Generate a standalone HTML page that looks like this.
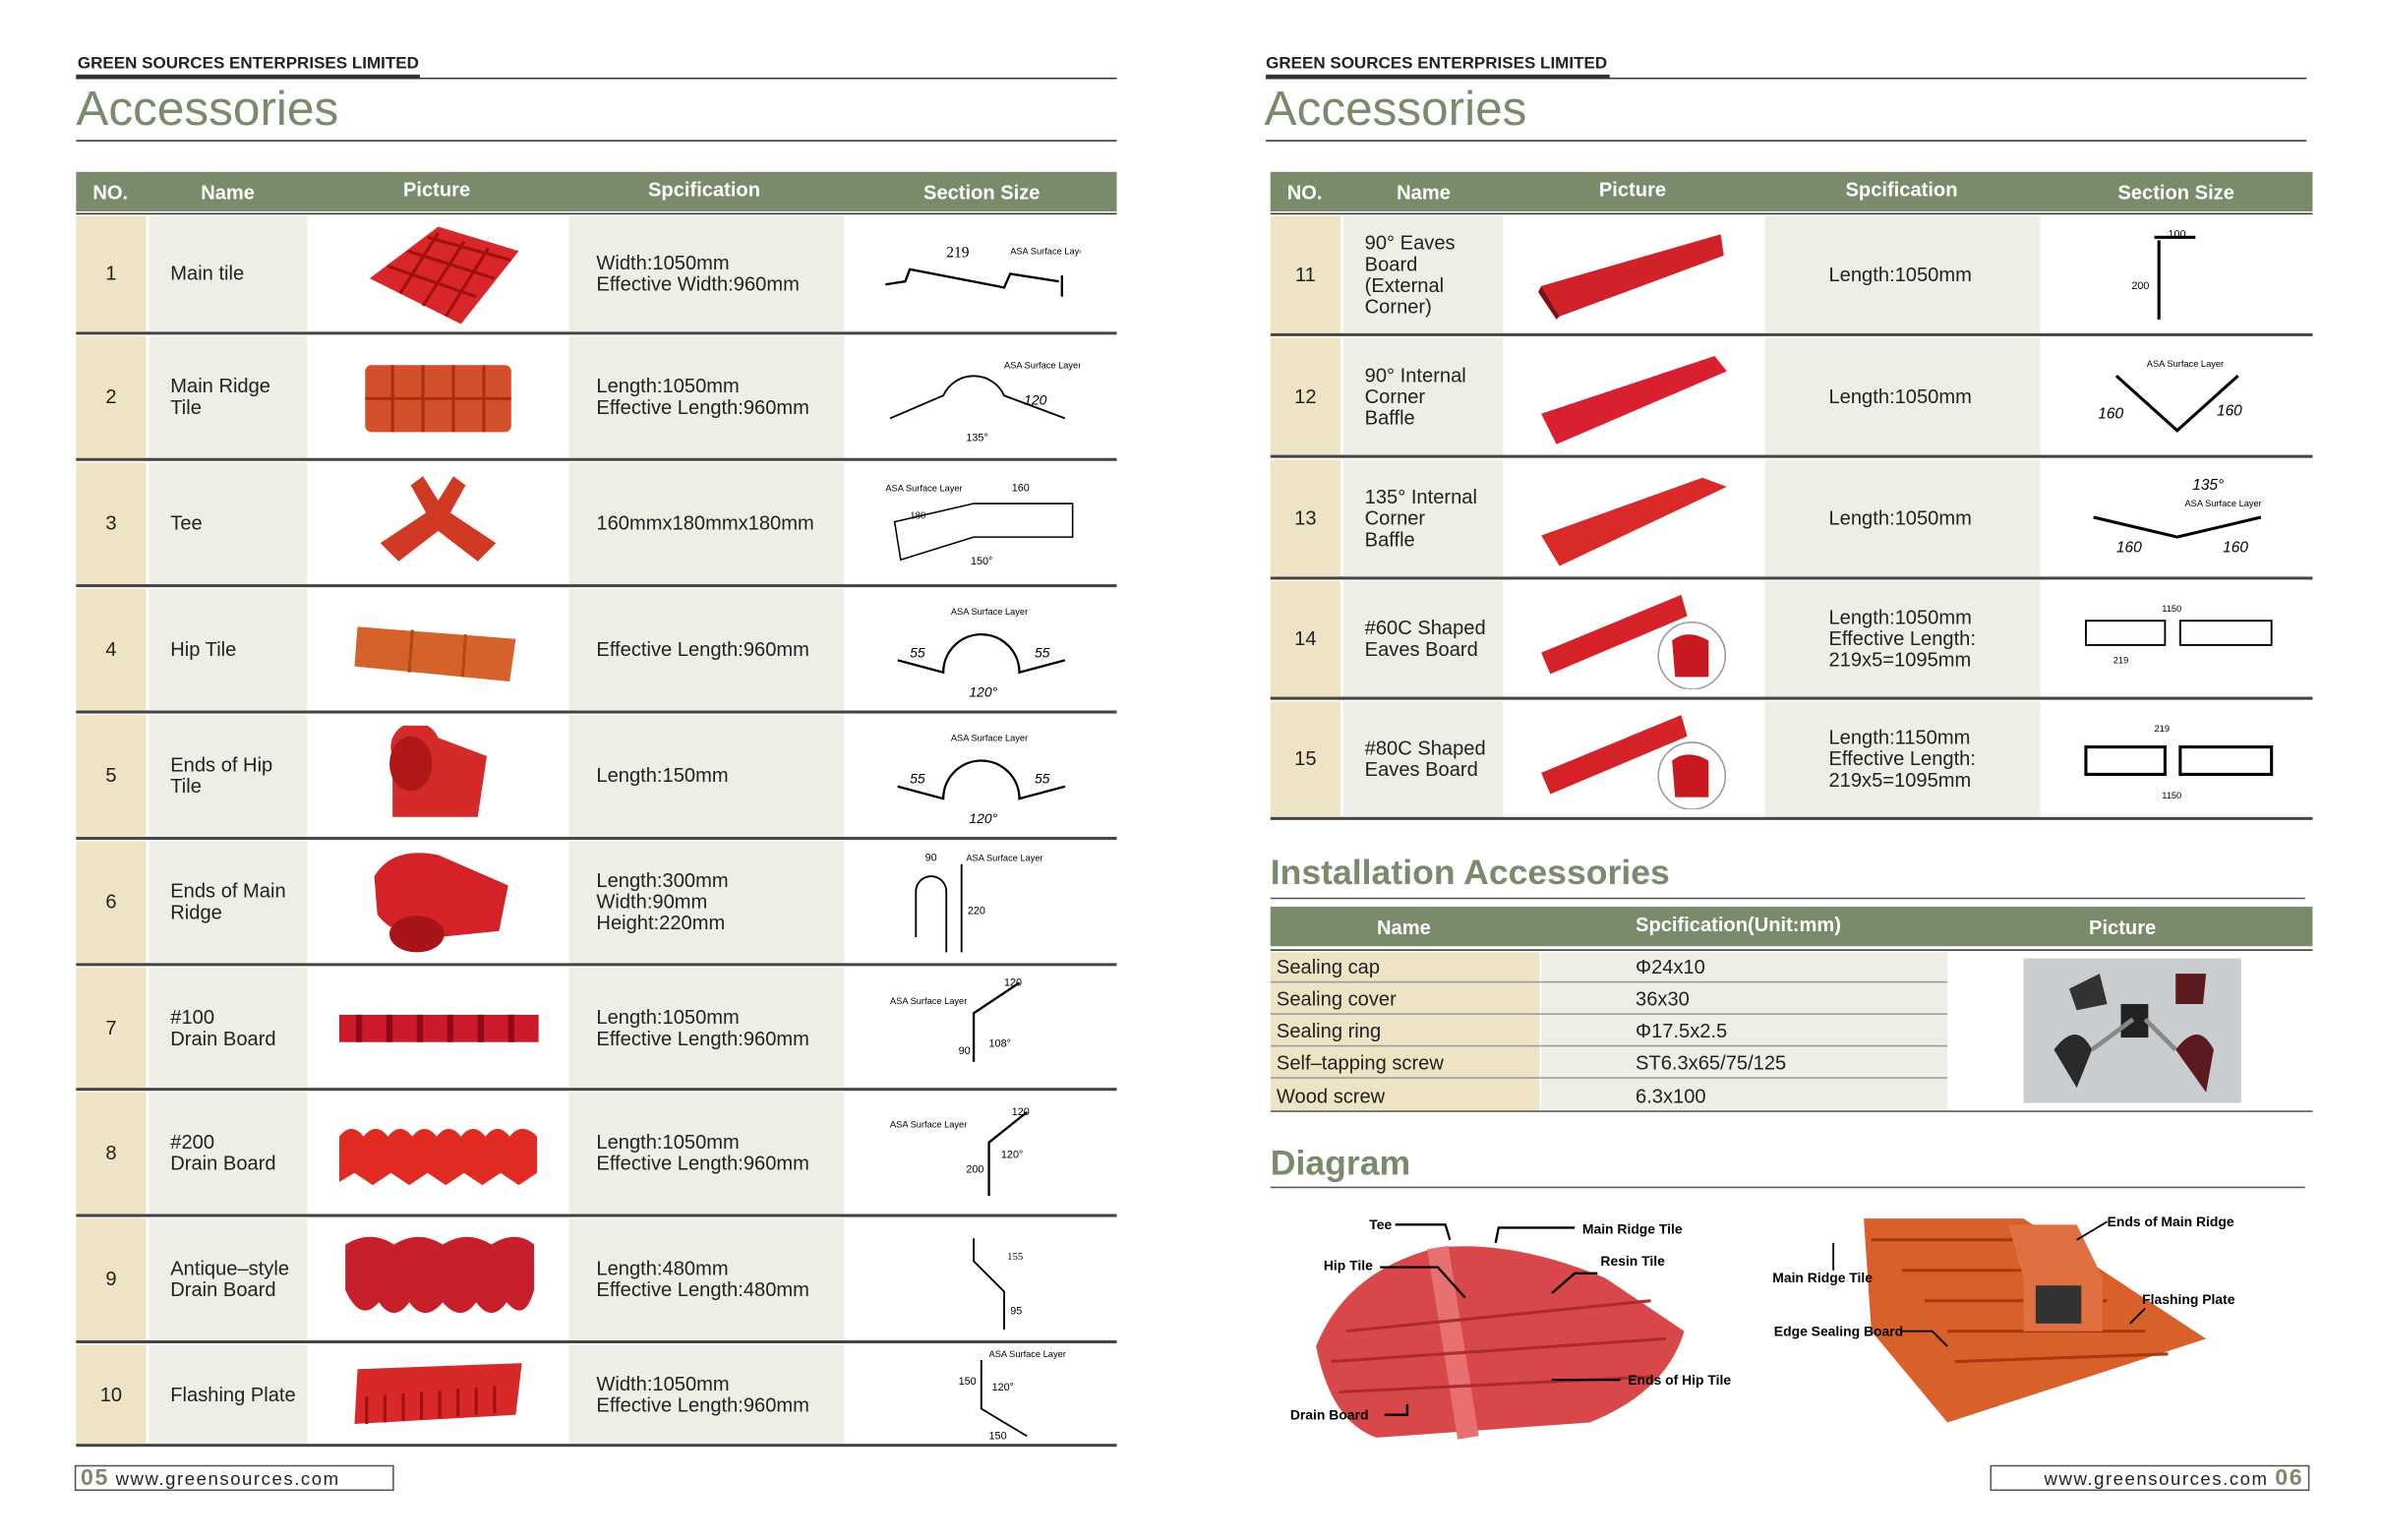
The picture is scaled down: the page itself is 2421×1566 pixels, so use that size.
<!DOCTYPE html>
<html><head><meta charset="utf-8"><style>
*{margin:0;padding:0;box-sizing:border-box}
html,body{width:2421px;height:1565px;overflow:hidden;background:#fff}
#w{position:absolute;left:0;top:0;width:1565px;height:1012px;transform:scale(1.547);transform-origin:0 0;font-family:"Liberation Sans",sans-serif;color:#222}
.a{position:absolute}
.co{font-size:11px;font-weight:bold;font-family:"Liberation Sans Narrow","Liberation Sans",sans-serif;letter-spacing:0}
.tt{font-size:32px;color:#7a8a6c;font-family:"Liberation Sans Narrow","Liberation Sans",sans-serif}
.hd{background:#7a8b6c;color:#fff;font-weight:bold;font-size:13px}
.hd span{position:absolute;top:6px}
.row{position:absolute;border-bottom:2px solid #444}
.c{position:absolute;top:0;bottom:0;display:flex;align-items:center;font-size:13px;line-height:14px}
.n{background:#efe3c6;justify-content:center}
.nm{background:#eeeee6;padding-left:14px}
.sp{background:#eeeee6;padding-left:18px}
.pic,.sec{background:#fff;justify-content:center}
.st{font-size:23px;color:#7a8a6c;font-weight:bold}
.it{position:absolute;font-size:13px;display:flex;align-items:center;height:20px;border-bottom:1px solid #999}
.lb{font-size:9px;font-weight:bold;position:absolute}
</style></head><body><div id="w">

<!-- LEFT PAGE -->
<div class="a co" style="left:51px;top:36px">GREEN SOURCES ENTERPRISES LIMITED</div>
<div class="a" style="left:50px;top:49px;width:226px;height:3px;background:#333"></div>
<div class="a" style="left:50px;top:51px;width:684px;height:1px;background:#333"></div>
<div class="a tt" style="left:50px;top:53px">Accessories</div>
<div class="a" style="left:50px;top:92px;width:684px;height:1px;background:#333"></div>
<div class="a hd" style="left:50px;top:113px;width:684px;height:26px">
<span style="left:11px">NO.</span><span style="left:82px">Name</span><span style="left:215px;top:4px">Picture</span><span style="left:376px;top:4px">Spcification</span><span style="left:557px">Section Size</span></div>
<div class="a" style="left:50px;top:140px;width:684px;height:1px;background:#333"></div>

<!-- right page header -->
<div class="a co" style="left:832px;top:36px">GREEN SOURCES ENTERPRISES LIMITED</div>
<div class="a" style="left:832px;top:49px;width:226px;height:3px;background:#333"></div>
<div class="a" style="left:832px;top:51px;width:684px;height:1px;background:#333"></div>
<div class="a tt" style="left:831px;top:53px">Accessories</div>
<div class="a" style="left:832px;top:92px;width:684px;height:1px;background:#333"></div>
<div class="a hd" style="left:835px;top:113px;width:685px;height:26px">
<span style="left:11px">NO.</span><span style="left:83px">Name</span><span style="left:216px;top:4px">Picture</span><span style="left:378px;top:4px">Spcification</span><span style="left:557px">Section Size</span></div>
<div class="a" style="left:835px;top:140px;width:685px;height:1px;background:#333"></div>

<!-- LEFT ROWS -->
<div class="row" style="left:50px;top:142px;width:684px;height:78px">
<div class="c n" style="left:0;width:46px">1</div><div class="c nm" style="left:48px;width:104px">Main tile</div>
<div class="c pic" style="left:152px;width:172px"><svg width="110" height="70"><polygon points="10,38 55,4 108,20 70,68" fill="#d8262a"/><path d="M22,30 L80,50 M35,20 L92,38 M48,11 L103,26 M30,48 L55,8 M45,56 L72,14 M60,63 L88,18" stroke="#a01010" stroke-width="2" fill="none"/></svg></div>
<div class="c sp" style="left:324px;width:181px">Width:1050mm<br>Effective Width:960mm</div>
<div class="c sec" style="left:505px;width:179px"><svg width="130" height="50"><text x="42" y="14" font-size="10" font-family="Liberation Serif">219</text><text x="84" y="12" font-size="6">ASA Surface Layer</text><path d="M2,32 L15,30 L18,22 L80,34 L84,25 L116,30 M118,26 V40" stroke="#000" stroke-width="1.5" fill="none"/></svg></div></div>

<div class="row" style="left:50px;top:221px;width:684px;height:82px">
<div class="c n" style="left:0;width:46px">2</div><div class="c nm" style="left:48px;width:104px">Main Ridge<br>Tile</div>
<div class="c pic" style="left:152px;width:172px"><svg width="100" height="50"><rect x="2" y="4" width="96" height="44" rx="4" fill="#d4502a"/><path d="M20,4V48 M40,4V48 M60,4V48 M80,4V48 M2,26H98" stroke="#a83010" stroke-width="2"/></svg></div>
<div class="c sp" style="left:324px;width:181px">Length:1050mm<br>Effective Length:960mm</div>
<div class="c sec" style="left:505px;width:179px"><svg width="130" height="62"><text x="80" y="12" font-size="6">ASA Surface Layer</text><path d="M5,45 L40,30 A22,22 0 0 1 80,30 L120,45" stroke="#000" stroke-width="1.2" fill="none"/><text x="93" y="36" font-size="9" font-style="italic">120</text><text x="55" y="60" font-size="7">135°</text></svg></div></div>

<div class="row" style="left:50px;top:304px;width:684px;height:82px">
<div class="c n" style="left:0;width:46px">3</div><div class="c nm" style="left:48px;width:104px">Tee</div>
<div class="c pic" style="left:152px;width:172px"><svg width="80" height="70"><polygon points="30,4 40,20 50,4 58,10 48,28 78,48 66,60 40,40 14,60 2,48 32,28 22,10" fill="#d03a22"/></svg></div>
<div class="c sp" style="left:324px;width:181px">160mmx180mmx180mm</div>
<div class="c sec" style="left:505px;width:179px"><svg width="130" height="62"><text x="2" y="10" font-size="6">ASA Surface Layer</text><text x="85" y="10" font-size="7">160</text><path d="M8,30 L60,18 H125 V40 H60 L12,55 Z" stroke="#000" stroke-width="1" fill="none"/><text x="18" y="28" font-size="7" font-family="Liberation Serif">180</text><text x="58" y="58" font-size="7">150°</text></svg></div></div>

<div class="row" style="left:50px;top:387px;width:684px;height:82px">
<div class="c n" style="left:0;width:46px">4</div><div class="c nm" style="left:48px;width:104px">Hip Tile</div>
<div class="c pic" style="left:152px;width:172px"><svg width="115" height="50"><polygon points="4,10 108,18 104,46 2,36" fill="#d4622a"/><path d="M40,12 L38,40 M75,15 L73,43" stroke="#b04818" stroke-width="2"/></svg></div>
<div class="c sp" style="left:324px;width:181px">Effective Length:960mm</div>
<div class="c sec" style="left:505px;width:179px"><svg width="130" height="70"><text x="45" y="12" font-size="6">ASA Surface Layer</text><path d="M10,42 L40,50 A25,25 0 0 1 90,50 L120,42" stroke="#000" stroke-width="1.5" fill="none"/><text x="18" y="40" font-size="9" font-style="italic">55</text><text x="100" y="40" font-size="9" font-style="italic">55</text><text x="57" y="66" font-size="9" font-style="italic">120°</text></svg></div></div>

<div class="row" style="left:50px;top:470px;width:684px;height:82px">
<div class="c n" style="left:0;width:46px">5</div><div class="c nm" style="left:48px;width:104px">Ends of Hip<br>Tile</div>
<div class="c pic" style="left:152px;width:172px"><svg width="80" height="66"><path d="M10,60 L10,20 A16,16 0 0 1 40,8 L72,20 L66,60 Z" fill="#d42a2a"/><ellipse cx="22" cy="25" rx="14" ry="18" fill="#b01818"/></svg></div>
<div class="c sp" style="left:324px;width:181px">Length:150mm</div>
<div class="c sec" style="left:505px;width:179px"><svg width="130" height="70"><text x="45" y="12" font-size="6">ASA Surface Layer</text><path d="M10,42 L40,50 A25,25 0 0 1 90,50 L120,42" stroke="#000" stroke-width="1.5" fill="none"/><text x="18" y="40" font-size="9" font-style="italic">55</text><text x="100" y="40" font-size="9" font-style="italic">55</text><text x="57" y="66" font-size="9" font-style="italic">120°</text></svg></div></div>

<div class="row" style="left:50px;top:553px;width:684px;height:82px">
<div class="c n" style="left:0;width:46px">6</div><div class="c nm" style="left:48px;width:104px">Ends of Main<br>Ridge</div>
<div class="c pic" style="left:152px;width:172px"><svg width="100" height="75"><path d="M8,20 Q20,0 50,6 L96,26 L90,56 L50,60 Q20,60 10,45 Z" fill="#d42228"/><ellipse cx="36" cy="58" rx="18" ry="12" fill="#a81418"/></svg></div>
<div class="c sp" style="left:324px;width:181px">Length:300mm<br>Width:90mm<br>Height:220mm</div>
<div class="c sec" style="left:505px;width:179px"><svg width="130" height="75"><text x="55" y="10" font-size="6">ASA Surface Layer</text><text x="28" y="10" font-size="7">90</text><path d="M22,60 V30 A10,10 0 0 1 42,30 V70 M52,12 V70" stroke="#000" stroke-width="1.2" fill="none"/><text x="56" y="45" font-size="7">220</text></svg></div></div>

<div class="row" style="left:50px;top:636px;width:684px;height:81px">
<div class="c n" style="left:0;width:46px">7</div><div class="c nm" style="left:48px;width:104px">#100<br>Drain Board</div>
<div class="c pic" style="left:152px;width:172px"><svg width="135" height="30"><rect x="2" y="6" width="131" height="18" fill="#cc1a2a"/><path d="M15,6V24 M35,6V24 M55,6V24 M75,6V24 M95,6V24 M115,6V24" stroke="#8a0a18" stroke-width="4"/></svg></div>
<div class="c sp" style="left:324px;width:181px">Length:1050mm<br>Effective Length:960mm</div>
<div class="c sec" style="left:505px;width:179px"><svg width="130" height="75"><text x="5" y="22" font-size="6">ASA Surface Layer</text><path d="M60,60 V28 L90,8" stroke="#000" stroke-width="1.5" fill="none"/><text x="70" y="50" font-size="7">108°</text><text x="50" y="55" font-size="7">90</text><text x="80" y="10" font-size="7">120</text></svg></div></div>

<div class="row" style="left:50px;top:718px;width:684px;height:82px">
<div class="c n" style="left:0;width:46px">8</div><div class="c nm" style="left:48px;width:104px">#200<br>Drain Board</div>
<div class="c pic" style="left:152px;width:172px"><svg width="135" height="50"><path d="M2,14 Q10,4 18,14 Q26,4 34,14 Q42,4 50,14 Q58,4 66,14 Q74,4 82,14 Q90,4 98,14 Q106,4 114,14 Q122,4 132,14 V38 L120,46 L108,38 L96,46 L84,38 L72,46 L60,38 L48,46 L36,38 L24,46 L12,38 L2,44Z" fill="#e02a22"/></svg></div>
<div class="c sp" style="left:324px;width:181px">Length:1050mm<br>Effective Length:960mm</div>
<div class="c sec" style="left:505px;width:179px"><svg width="130" height="75"><text x="5" y="20" font-size="6">ASA Surface Layer</text><path d="M70,65 V30 L95,10" stroke="#000" stroke-width="1.5" fill="none"/><text x="85" y="12" font-size="7">120</text><text x="78" y="40" font-size="7">120°</text><text x="55" y="50" font-size="7">200</text></svg></div></div>

<div class="row" style="left:50px;top:801px;width:684px;height:82px">
<div class="c n" style="left:0;width:46px">9</div><div class="c nm" style="left:48px;width:104px">Antique–style<br>Drain Board</div>
<div class="c pic" style="left:152px;width:172px"><svg width="130" height="66"><path d="M4,10 Q20,0 36,10 Q52,0 68,10 Q84,0 100,10 Q116,0 128,10 V40 Q122,62 110,48 Q100,62 90,48 Q80,62 68,48 Q56,62 46,48 Q36,62 26,48 Q14,62 4,40Z" fill="#c8202a"/></svg></div>
<div class="c sp" style="left:324px;width:181px">Length:480mm<br>Effective Length:480mm</div>
<div class="c sec" style="left:505px;width:179px"><svg width="130" height="75"><path d="M60,10 V25 L80,45 V70" stroke="#000" stroke-width="1.2" fill="none"/><text x="82" y="24" font-size="7" font-family="Liberation Serif">155</text><text x="84" y="60" font-size="7">95</text></svg></div></div>

<div class="row" style="left:50px;top:884px;width:684px;height:67px">
<div class="c n" style="left:0;width:46px">10</div><div class="c nm" style="left:48px;width:104px">Flashing Plate</div>
<div class="c pic" style="left:152px;width:172px"><svg width="115" height="50"><polygon points="4,8 112,4 108,38 2,44" fill="#d8282a"/><path d="M10,26V44 M22,25V43 M34,24V42 M46,23V41 M58,22V40 M70,21V39 M82,20V38 M94,19V37" stroke="#a01010" stroke-width="2"/></svg></div>
<div class="c sp" style="left:324px;width:181px">Width:1050mm<br>Effective Length:960mm</div>
<div class="c sec" style="left:505px;width:179px"><svg width="130" height="66"><text x="70" y="8" font-size="6">ASA Surface Layer</text><path d="M65,10 V42 L95,60" stroke="#000" stroke-width="1.2" fill="none"/><text x="50" y="26" font-size="7">150</text><text x="72" y="30" font-size="7">120°</text><text x="70" y="62" font-size="7">150</text></svg></div></div>

<!-- RIGHT ROWS -->
<div class="row" style="left:835px;top:142px;width:685px;height:79px">
<div class="c n" style="left:0;width:46px">11</div><div class="c nm" style="left:48px;width:105px">90°  Eaves<br>Board<br>(External<br>Corner)</div>
<div class="c pic" style="left:153px;width:172px"><svg width="130" height="62"><polygon points="4,38 122,4 124,18 16,58" fill="#d02228"/><polygon points="4,38 16,58 14,60 2,42" fill="#801018"/></svg></div>
<div class="c sp" style="left:325px;width:181px;padding-left:42px">Length:1050mm</div>
<div class="c sec" style="left:506px;width:179px"><svg width="80" height="66"><path d="M25,8 H52 M28,10 V62" stroke="#000" stroke-width="2" fill="none"/><text x="34" y="8" font-size="7">100</text><text x="10" y="42" font-size="7">200</text></svg></div></div>

<div class="row" style="left:835px;top:222px;width:685px;height:79px">
<div class="c n" style="left:0;width:46px">12</div><div class="c nm" style="left:48px;width:105px">90°  Internal<br>Corner<br>Baffle</div>
<div class="c pic" style="left:153px;width:172px"><svg width="130" height="66"><polygon points="4,44 118,6 126,16 14,64" fill="#d82030"/></svg></div>
<div class="c sp" style="left:325px;width:181px;padding-left:42px">Length:1050mm</div>
<div class="c sec" style="left:506px;width:179px"><svg width="120" height="60"><text x="40" y="10" font-size="6">ASA Surface Layer</text><path d="M20,16 L60,52 L100,16" stroke="#000" stroke-width="2" fill="none"/><text x="8" y="44" font-size="10" font-style="italic">160</text><text x="86" y="42" font-size="10" font-style="italic">160</text></svg></div></div>

<div class="row" style="left:835px;top:302px;width:685px;height:79px">
<div class="c n" style="left:0;width:46px">13</div><div class="c nm" style="left:48px;width:105px">135°  Internal<br>Corner<br>Baffle</div>
<div class="c pic" style="left:153px;width:172px"><svg width="130" height="66"><polygon points="4,44 110,6 126,12 16,64" fill="#d82a28"/></svg></div>
<div class="c sp" style="left:325px;width:181px;padding-left:42px">Length:1050mm</div>
<div class="c sec" style="left:506px;width:179px"><svg width="130" height="66"><text x="75" y="14" font-size="10" font-style="italic">135°</text><text x="70" y="25" font-size="6">ASA Surface Layer</text><path d="M10,32 L65,45 L120,32" stroke="#000" stroke-width="2" fill="none"/><text x="25" y="55" font-size="10" font-style="italic">160</text><text x="95" y="55" font-size="10" font-style="italic">160</text></svg></div></div>

<div class="row" style="left:835px;top:382px;width:685px;height:78px">
<div class="c n" style="left:0;width:46px">14</div><div class="c nm" style="left:48px;width:105px">#60C Shaped<br>Eaves Board</div>
<div class="c pic" style="left:153px;width:172px"><svg width="130" height="66"><polygon points="4,42 96,4 100,18 10,56" fill="#d42228"/><circle cx="103" cy="44" r="22" fill="#fff" stroke="#999"/><path d="M90,34 Q100,26 114,34 V58 H92Z" fill="#c81820"/></svg></div>
<div class="c sp" style="left:325px;width:181px;padding-left:42px">Length:1050mm<br>Effective Length:<br>219x5=1095mm</div>
<div class="c sec" style="left:506px;width:179px"><svg width="140" height="60"><text x="60" y="12" font-size="6">1150</text><path d="M10,18 H62 V34 H10Z M72,18 H132 V34 H72Z" stroke="#000" stroke-width="1.2" fill="none"/><text x="28" y="46" font-size="6">219</text></svg></div></div>

<div class="row" style="left:835px;top:461px;width:685px;height:78px">
<div class="c n" style="left:0;width:46px">15</div><div class="c nm" style="left:48px;width:105px">#80C Shaped<br>Eaves Board</div>
<div class="c pic" style="left:153px;width:172px"><svg width="130" height="66"><polygon points="4,42 96,4 100,18 10,56" fill="#d42228"/><circle cx="103" cy="44" r="22" fill="#fff" stroke="#999"/><path d="M90,34 Q100,26 114,34 V58 H92Z" fill="#c81820"/></svg></div>
<div class="c sp" style="left:325px;width:181px;padding-left:42px">Length:1150mm<br>Effective Length:<br>219x5=1095mm</div>
<div class="c sec" style="left:506px;width:179px"><svg width="140" height="60"><text x="55" y="12" font-size="6">219</text><path d="M10,22 H62 V40 H10Z M72,22 H132 V40 H72Z" stroke="#000" stroke-width="2" fill="none"/><text x="60" y="56" font-size="6">1150</text></svg></div></div>

<!-- Installation -->
<div class="a st" style="left:835px;top:560px">Installation Accessories</div>
<div class="a" style="left:835px;top:590px;width:680px;height:1px;background:#555"></div>
<div class="a hd" style="left:835px;top:596px;width:685px;height:26px">
<span style="left:70px">Name</span><span style="left:240px;top:4px">Spcification(Unit:mm)</span><span style="left:538px">Picture</span></div>
<div class="a" style="left:835px;top:624px;width:685px;height:1px;background:#333"></div>
<div class="a" style="left:835px;top:626px;width:177px;height:104px;background:#efe3c6"></div>
<div class="a" style="left:1013px;top:626px;width:267px;height:104px;background:#eeeee6"></div>
<div class="it" style="left:835px;top:626px;width:445px"><span style="margin-left:4px;width:236px">Sealing cap</span>Φ24x10</div>
<div class="it" style="left:835px;top:647px;width:445px"><span style="margin-left:4px;width:236px">Sealing cover</span>36x30</div>
<div class="it" style="left:835px;top:668px;width:445px"><span style="margin-left:4px;width:236px">Sealing ring</span>Φ17.5x2.5</div>
<div class="it" style="left:835px;top:689px;width:445px"><span style="margin-left:4px;width:236px">Self–tapping screw</span>ST6.3x65/75/125</div>
<div class="it" style="left:835px;top:710px;width:445px;border:none"><span style="margin-left:4px;width:236px">Wood screw</span>6.3x100</div>
<div class="a" style="left:835px;top:730px;width:685px;height:1px;background:#555"></div>
<div class="a" style="left:1330px;top:630px;width:143px;height:95px;background:#c9cdd0"><svg width="143" height="95"><path d="M30,20 L50,10 L55,30 L35,34Z" fill="#333"/><rect x="64" y="30" width="18" height="22" fill="#222"/><path d="M100,10 L120,10 L118,30 L100,30Z" fill="#5a1a1e"/><path d="M20,60 Q35,40 45,60 L35,85 Z" fill="#2a2a2a"/><path d="M100,60 Q115,40 125,60 L120,88Z" fill="#5a1a1e"/><path d="M45,60 L72,40 M100,60 L80,40" stroke="#888" stroke-width="3"/></svg></div>

<!-- Diagram -->
<div class="a st" style="left:835px;top:751px">Diagram</div>
<div class="a" style="left:835px;top:780px;width:680px;height:1px;background:#555"></div>
<svg class="a" style="left:845px;top:795px" width="300" height="155">
<path d="M20,90 Q40,40 100,25 Q150,20 210,45 L262,80 Q250,120 200,140 L60,150 Q30,140 20,90Z" fill="#d8484a"/>
<path d="M100,25 L120,150" stroke="#e87070" stroke-width="14"/>
<path d="M40,80 L240,60 M30,100 L250,85 M35,120 L240,110" stroke="#b02a2c" stroke-width="2"/>
<g font-size="9" font-weight="bold" font-family="Liberation Sans"><text x="55" y="13">Tee</text><text x="195" y="16">Main Ridge Tile</text><text x="25" y="40">Hip Tile</text><text x="207" y="37">Resin Tile</text><text x="225" y="115">Ends of Hip Tile</text><text x="3" y="138">Drain Board</text></g>
<path d="M72,10 H105 L108,20 M190,12 H140 L138,22 M62,38 H100 L118,58 M205,42 H190 L175,55 M220,112 H175 M65,135 H80 V128" stroke="#000" stroke-width="1.5" fill="none"/>
</svg>
<svg class="a" style="left:1160px;top:795px" width="320" height="145">
<path d="M65,6 L170,6 L290,85 L120,140 L70,80Z" fill="#d8602a"/>
<path d="M70,20 L175,20 M90,40 L200,40 M105,60 L225,60 M120,80 L250,80 M125,100 L265,95" stroke="#a83a10" stroke-width="2"/>
<polygon points="160,10 205,10 222,45 222,80 170,80 170,45" fill="#e07040"/><rect x="178" y="50" width="30" height="25" fill="#333"/>
<g font-size="9" font-weight="bold" font-family="Liberation Sans"><text x="225" y="11">Ends of Main Ridge</text><text x="5" y="48">Main Ridge Tile</text><text x="248" y="62">Flashing Plate</text><text x="6" y="83">Edge Sealing Board</text></g>
<path d="M225,8 L205,20 M45,40 V22 M250,65 L240,75 M90,80 H110 L120,90" stroke="#000" stroke-width="1.2" fill="none"/>
</svg>

<!-- footers -->
<div class="a" style="left:49px;top:963px;width:210px;height:17px;border:1px solid #555;font-size:12px;letter-spacing:1px;line-height:15px"><b style="color:#7a8a6c;font-size:15px;margin-left:3px">05</b> www.greensources.com</div>
<div class="a" style="left:1308px;top:963px;width:210px;height:17px;border:1px solid #555;font-size:12px;letter-spacing:1px;line-height:15px;text-align:right">www.greensources.com <b style="color:#7a8a6c;font-size:15px;margin-right:3px">06</b></div>

</div></body></html>
